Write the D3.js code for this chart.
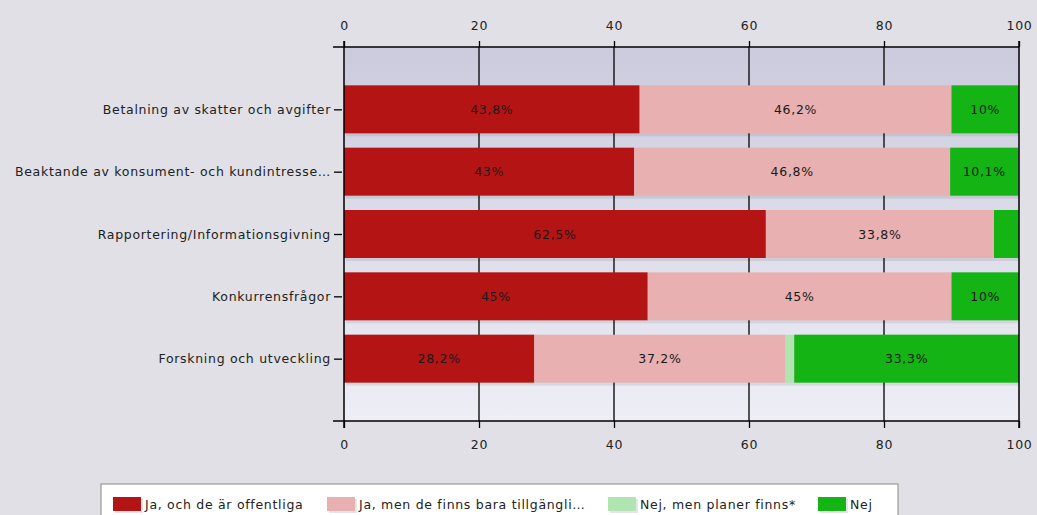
<!DOCTYPE html>
<html><head><meta charset="utf-8">
<script src="https://cdn.jsdelivr.net/npm/d3@7"></script>
<style>body{margin:0;background:#e0e0e6;}svg{display:block;font-family:"DejaVu Sans",Verdana,sans-serif;}</style>
</head><body><svg id="c" width="1037" height="515"></svg>
<script>
const categories = ["Betalning av skatter och avgifter","Beaktande av konsument- och kundintresse…","Rapportering/Informationsgivning","Konkurrensfrågor","Forskning och utveckling"];
const seriesNames = ["Ja, och de är offentliga","Ja, men de finns bara tillgängli…","Nej, men planer finns*","Nej"];
const seriesColors = ["#b51414","#e8b0b0","#b0e4b0","#14b414"];
const jaOffentliga = [43.8, 43, 62.5, 45, 28.2];
const jaTillgangliga = [46.2, 46.8, 33.8, 45, 37.2];
const nejPlaner = [0, 0, 0, 0, 1.3];
const nej = [10, 10.1, 3.7, 10, 33.3];
const labels = [["43,8%","46,2%","","10%"],["43%","46,8%","","10,1%"],["62,5%","33,8%","",""],["45%","45%","","10%"],["28,2%","37,2%","","33,3%"]];
const xTicks = [0,20,40,60,80,100];

const FS = "12.5px", LS = "0.7px";
const svg = d3.select("#c");
const L=344, R=1019, T=47, B=421;
const x = d3.scaleLinear().domain([0,100]).range([L,R]);
const y = d3.scalePoint().domain(categories).range([T,B]).padding(1);
const barH = 48;

const defs = svg.append("defs");
const g = defs.append("linearGradient").attr("id","bg").attr("x1",0).attr("y1",0).attr("x2",0).attr("y2",1);
g.append("stop").attr("offset","0%").attr("stop-color","#cbcbdd");
g.append("stop").attr("offset","100%").attr("stop-color","#eeeef7");
svg.append("rect").attr("x",L).attr("y",T).attr("width",R-L).attr("height",B-T).attr("fill","url(#bg)");

// gridlines
svg.append("g").selectAll("line").data(xTicks.slice(1,-1)).join("line")
  .attr("x1",d=>x(d)).attr("x2",d=>x(d)).attr("y1",T).attr("y2",B)
  .attr("stroke","#000").attr("stroke-width",1.3);

const series = [jaOffentliga, jaTillgangliga, nejPlaner, nej];
const rows = categories.map((c,i)=>{
  let acc=0;
  return series.map((s,k)=>{const v=s[i]; const r={cat:c,k,x0:acc,x1:acc+v,label:labels[i][k]}; acc+=v; return r;});
});
const segs = rows.flat().filter(d=>d.x1>d.x0);

// shadow
svg.append("g").selectAll("rect").data(categories).join("rect")
  .attr("x",x(0)+2).attr("y",d=>y(d)-barH/2+3).attr("width",R-L-2).attr("height",barH)
  .attr("fill","#000").attr("opacity",0.08);

svg.append("g").selectAll("rect").data(segs).join("rect")
  .attr("x",d=>x(d.x0)).attr("y",d=>y(d.cat)-barH/2)
  .attr("width",d=>x(d.x1)-x(d.x0)).attr("height",barH)
  .attr("fill",d=>seriesColors[d.k]);

svg.append("g").selectAll("text").data(segs.filter(d=>d.label)).join("text")
  .attr("x",d=>(x(d.x0)+x(d.x1))/2).attr("y",d=>y(d.cat)+4.5)
  .attr("text-anchor","middle").attr("font-size",FS).attr("letter-spacing",LS).attr("fill","#1a1a1a").text(d=>d.label);

// axes
const topAx = svg.append("g").attr("transform",`translate(0,${T})`)
  .call(d3.axisTop(x).tickValues(xTicks).tickSize(6).tickSizeOuter(0));
const botAx = svg.append("g").attr("transform",`translate(0,${B})`)
  .call(d3.axisBottom(x).tickValues(xTicks).tickSize(7).tickSizeOuter(0));
[topAx,botAx].forEach(a=>{
  a.select(".domain").attr("d",`M${L-11},0H${R}`).attr("stroke","#000").attr("stroke-width",1.5);
  a.selectAll(".tick line").attr("stroke","#000").attr("stroke-width",1.3);
  a.selectAll(".tick text").attr("font-size",FS).attr("letter-spacing",LS).attr("fill","#222").attr("font-family","DejaVu Sans, sans-serif");
});
topAx.selectAll(".tick text").attr("dy","-0.65em");
botAx.selectAll(".tick text").attr("dy","1.4em");

const leftAx = svg.append("g").attr("transform",`translate(${L},0)`)
  .call(d3.axisLeft(y).tickSize(10).tickSizeOuter(0).tickPadding(3));
leftAx.select(".domain").attr("d",`M0,${T-6}V${B+7}`).attr("stroke","#000").attr("stroke-width",1.5);
leftAx.selectAll(".tick line").attr("stroke","#000").attr("stroke-width",1.3).attr("x1",-2);
leftAx.selectAll(".tick text").attr("font-size",FS).attr("letter-spacing",LS).attr("fill","#222").attr("font-family","DejaVu Sans, sans-serif");

svg.append("line").attr("x1",R).attr("x2",R).attr("y1",T-6).attr("y2",B+7).attr("stroke","#000").attr("stroke-width",1.5);

// legend
const lg = svg.append("g");
lg.append("rect").attr("x",101).attr("y",484).attr("width",797).attr("height",40).attr("fill","#fff").attr("stroke","#999").attr("stroke-width",1.2);
const legX = [113, 327, 608, 818];
const items = lg.selectAll("g").data(seriesNames).join("g").attr("transform",(d,i)=>`translate(${legX[i]},497)`);
items.append("rect").attr("x",2).attr("y",2).attr("width",28).attr("height",14).attr("fill","#000").attr("opacity",0.1);
items.append("rect").attr("width",28).attr("height",14).attr("fill",(d,i)=>seriesColors[i]);
items.append("text").attr("x",32).attr("y",11.5).attr("font-size",FS).attr("letter-spacing",LS).attr("fill","#222").text(d=>d);
</script></body></html>
